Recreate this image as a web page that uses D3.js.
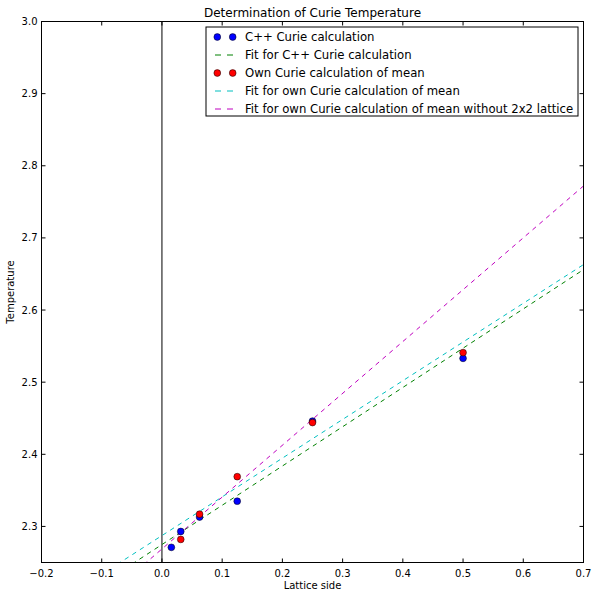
<!DOCTYPE html>
<html>
    <head>
        <meta charset="utf-8">
        <title>Determination of Curie Temperature</title>
        <script src="https://d3js.org/d3.v7.min.js"></script>
        <style>
            body {
                margin:0;
                background:white;
            }
            svg {
                display:block;
                font-family:'DejaVu Sans', sans-serif;
            }
        </style>
    </head>
    <body>
        <svg id="chart" width="598" height="599"></svg>
    </body>
    <script>

        // Data
        const cppSide = [0.5, 0.25, 0.125, 0.0625, 0.03125, 0.015625];
        const cppTemp = [2.533, 2.446, 2.335, 2.313, 2.293, 2.271];

        const ownSide = [0.5, 0.25, 0.125, 0.0625, 0.03125];
        const ownTemp = [2.541, 2.444, 2.369, 2.317, 2.282];

        // fit lines, given at both ends of the x range
        const fitX = [-0.2, 0.7];
        const fitCpp = [2.166, 2.656];
        const fitOwn = [2.180, 2.663];
        const fitOwnNo2x2 = [2.125, 2.772];

        const xTicks = [-0.2, -0.1, 0.0, 0.1, 0.2, 0.3, 0.4, 0.5, 0.6, 0.7];
        const yTicks = [2.3, 2.4, 2.5, 2.6, 2.7, 2.8, 2.9, 3.0];

        const legendLabels = [
            'C++ Curie calculation',
            'Fit for C++ Curie calculation',
            'Own Curie calculation of mean',
            'Fit for own Curie calculation of mean',
            'Fit for own Curie calculation of mean without 2x2 lattice'
        ];

        const svg = d3.select('#chart');

        const pLeft = 41.5, pRight = 583.5, pTop = 21.5, pBottom = 562.5;

        const x = d3.scaleLinear().domain([-0.2, 0.7]).range([pLeft, pRight]);
        const y = d3.scaleLinear().domain([2.25, 3.0]).range([pBottom, pTop]);

        const fmt = d => d3.format('.1f')(d).replace('-', '\u2212');

        svg.append('clipPath').attr('id', 'plot-clip')
            .append('rect')
            .attr('x', pLeft).attr('y', pTop)
            .attr('width', pRight - pLeft).attr('height', pBottom - pTop);

        // vertical line at x = 0
        svg.append('line')
            .attr('x1', x(0)).attr('x2', x(0))
            .attr('y1', pTop).attr('y2', pBottom)
            .style('stroke', 'black')
            .style('stroke-width', 1);

        // fit lines
        const fits = [
            {vals: fitCpp, color: '#008000'},
            {vals: fitOwn, color: '#00bfbf'},
            {vals: fitOwnNo2x2, color: '#bf00bf'}
        ];
        const lineGen = d3.line().x(d => x(d[0])).y(d => y(d[1]));
        fits.forEach(f => {
            svg.append('path')
                .attr('d', lineGen(d3.zip(fitX, f.vals)))
                .attr('clip-path', 'url(#plot-clip)')
                .style('fill', 'none')
                .style('stroke', f.color)
                .style('stroke-width', 1)
                .style('stroke-dasharray', '4.5,4.5');
        });

        // points
        svg.append('g').selectAll('circle')
            .data(d3.zip(cppSide, cppTemp))
            .join('circle')
            .attr('cx', d => x(d[0]))
            .attr('cy', d => y(d[1]))
            .attr('r', 3.4)
            .style('fill', 'blue')
            .style('stroke', 'black')
            .style('stroke-width', 0.5);

        svg.append('g').selectAll('circle')
            .data(d3.zip(ownSide, ownTemp))
            .join('circle')
            .attr('cx', d => x(d[0]))
            .attr('cy', d => y(d[1]))
            .attr('r', 3.4)
            .style('fill', 'red')
            .style('stroke', 'black')
            .style('stroke-width', 0.5);

        // axes: ticks point inward on all four sides
        const tickLen = 4;
        const axisG = svg.append('g');

        xTicks.forEach(t => {
            axisG.append('line')
                .attr('x1', x(t)).attr('x2', x(t))
                .attr('y1', pBottom).attr('y2', pBottom - tickLen)
                .style('stroke', 'black');
            axisG.append('line')
                .attr('x1', x(t)).attr('x2', x(t))
                .attr('y1', pTop).attr('y2', pTop + tickLen)
                .style('stroke', 'black');
            axisG.append('text')
                .attr('x', x(t)).attr('y', pBottom + 14)
                .attr('text-anchor', 'middle')
                .style('font-size', '10px')
                .text(fmt(t));
        });

        yTicks.forEach(t => {
            axisG.append('line')
                .attr('x1', pLeft).attr('x2', pLeft + tickLen)
                .attr('y1', y(t)).attr('y2', y(t))
                .style('stroke', 'black');
            axisG.append('line')
                .attr('x1', pRight).attr('x2', pRight - tickLen)
                .attr('y1', y(t)).attr('y2', y(t))
                .style('stroke', 'black');
            axisG.append('text')
                .attr('x', pLeft - 4).attr('y', y(t))
                .attr('dy', '0.35em')
                .attr('text-anchor', 'end')
                .style('font-size', '10px')
                .text(fmt(t));
        });

        svg.append('rect')
            .attr('x', pLeft).attr('y', pTop)
            .attr('width', pRight - pLeft).attr('height', pBottom - pTop)
            .style('fill', 'none')
            .style('stroke', 'black')
            .style('stroke-width', 1);

        // titles
        svg.append('text')
            .attr('x', (pLeft + pRight) / 2).attr('y', 17)
            .attr('text-anchor', 'middle')
            .style('font-size', '12px')
            .text('Determination of Curie Temperature');

        svg.append('text')
            .attr('x', (pLeft + pRight) / 2).attr('y', 589)
            .attr('text-anchor', 'middle')
            .style('font-size', '10px')
            .text('Lattice side');

        svg.append('text')
            .attr('transform', `translate(14,${(pTop + pBottom) / 2}) rotate(-90)`)
            .attr('text-anchor', 'middle')
            .style('font-size', '10px')
            .text('Temperature');

        // legend
        const lg = svg.append('g');
        lg.append('rect')
            .attr('x', 206).attr('y', 27)
            .attr('width', 372).attr('height', 89)
            .style('fill', 'white')
            .style('stroke', 'black')
            .style('stroke-width', 1);

        const legendMarks = [
            {type: 'dot', color: 'blue'},
            {type: 'dash', color: '#008000'},
            {type: 'dot', color: 'red'},
            {type: 'dash', color: '#00bfbf'},
            {type: 'dash', color: '#bf00bf'}
        ];

        legendLabels.forEach((label, i) => {
            const ly = 37 + i * 18;
            const m = legendMarks[i];
            if (m.type === 'dot') {
                [217.3, 232.7].forEach(cx => {
                    lg.append('circle')
                        .attr('cx', cx).attr('cy', ly)
                        .attr('r', 3.4)
                        .style('fill', m.color)
                        .style('stroke', 'black')
                        .style('stroke-width', 0.5);
                });
            } else {
                lg.append('line')
                    .attr('x1', 215).attr('x2', 236)
                    .attr('y1', ly).attr('y2', ly)
                    .style('stroke', m.color)
                    .style('stroke-width', 1)
                    .style('stroke-dasharray', '6,6');
            }
            lg.append('text')
                .attr('x', 245).attr('y', ly)
                .attr('dy', '0.35em')
                .style('font-size', '11.7px')
                .text(label);
        });

    </script>
</html>
